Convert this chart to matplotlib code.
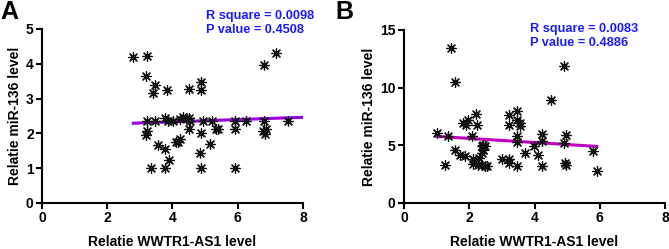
import matplotlib
matplotlib.use('Agg')
import matplotlib.pyplot as plt

plt.rcParams['font.family'] = ['Liberation Sans', 'DejaVu Sans']
plt.rcParams['font.weight'] = 'bold'

# panel A: WWTR1-AS1 vs miR-136
a_x = [2.80, 3.23, 3.20, 3.45, 3.41, 3.82, 4.51, 4.89, 4.89, 6.80, 7.18,
       3.23, 3.46, 3.78, 3.87, 4.02, 4.22, 4.33, 4.43, 4.50, 4.53, 4.94,
       5.22, 5.92, 6.24, 6.80, 7.55,
       3.22, 3.20, 4.51, 5.41, 5.35, 5.92, 6.78, 6.88, 6.83, 4.89, 4.22,
       4.17, 4.10, 3.56, 3.78, 5.14, 4.84, 3.89, 3.33, 3.76, 4.89, 5.92]
a_y = [4.19, 4.21, 3.65, 3.40, 3.15, 3.25, 3.27, 3.46, 3.25, 3.97, 4.31,
       2.34, 2.34, 2.43, 2.36, 2.34, 2.41, 2.46, 2.43, 2.43, 2.34, 2.34,
       2.34, 2.34, 2.34, 2.34, 2.34,
       2.08, 1.96, 2.12, 2.12, 2.12, 2.13, 2.08, 2.12, 1.98, 2.00, 1.85,
       1.76, 1.76, 1.65, 1.56, 1.69, 1.44, 1.22, 0.99, 0.99, 0.99, 0.99]
a_fit_x = [2.8, 8.0]
a_fit_y = [2.29, 2.46]

# panel B
b_x = [1.44, 1.56, 4.89, 4.50, 1.00, 1.34, 1.24, 1.56, 1.72, 1.87, 1.82,
       1.95, 1.89, 2.20, 2.24, 2.07, 2.10, 2.11, 2.28, 2.31, 2.38, 2.38,
       2.43, 2.48, 2.43, 2.38, 2.48, 2.53, 2.99, 3.22, 3.22, 3.22, 3.22,
       3.46, 3.46, 3.56, 3.56, 3.47, 3.45, 3.45, 3.72, 3.99, 4.12, 4.24,
       4.24, 4.24, 4.89, 4.96, 4.93, 4.98, 5.80, 5.91]
b_y = [13.41, 10.47, 11.88, 8.94, 6.06, 5.83, 3.26, 4.56, 4.18, 4.10, 6.92,
       7.21, 6.78, 7.73, 6.75, 5.77, 3.81, 3.35, 3.32, 3.89, 4.33, 4.90,
       4.99, 4.90, 4.61, 3.32, 3.17, 3.17, 3.81, 3.81, 3.46, 7.64, 6.78,
       7.93, 7.21, 6.69, 6.92, 5.83, 5.25, 3.17, 4.33, 4.96, 4.18, 5.97,
       5.34, 3.17, 5.19, 5.91, 3.46, 3.26, 4.47, 2.74]
b_fit_x = [1.0, 5.91]
b_fit_y = [5.77, 4.90]

fig = plt.figure(figsize=(6.69, 2.49), dpi=100)
axA = fig.add_axes([0.0628, 0.185, 0.390, 0.699])
axB = fig.add_axes([0.604, 0.185, 0.390, 0.695])

panels = [
    (axA, a_x, a_y, a_fit_x, a_fit_y, '#9B00E0', [0, 5], [0, 1, 2, 3, 4, 5],
     ['R square = 0.0098', 'P value = 0.4508'], 0.628, 0.96),
    (axB, b_x, b_y, b_fit_x, b_fit_y, '#C000C0', [0, 15], [0, 5, 10, 15],
     ['R square = 0.0083', 'P value = 0.4886'], 0.483, 0.907),
]

for ax, x, y, fx, fy, lc, ylim, yticks, txt, tx, ty in panels:
    ax.scatter(x, y, marker=(8, 2, 0), s=50, color='#111111', linewidths=0.9, zorder=3)
    ax.plot(fx, fy, color=lc, lw=2.2, zorder=2)
    ax.set_xlim(0, 8)
    ax.set_ylim(ylim)
    ax.set_xticks([0, 2, 4, 6, 8])
    ax.set_yticks(yticks)
    ax.spines['top'].set_visible(False)
    ax.spines['right'].set_visible(False)
    for s in ['left', 'bottom']:
        ax.spines[s].set_linewidth(1.5)
    ax.tick_params(width=1.5, length=4, labelsize=10, pad=2)
    for t in ax.get_xticklabels() + ax.get_yticklabels():
        t.set_fontweight('bold')
    ax.set_xlabel('Relatie WWTR1-AS1 level', fontsize=10, fontweight='bold', labelpad=7)
    ax.set_ylabel('Relatie miR-136 level', fontsize=10, fontweight='bold', labelpad=3)
    fig.text(tx * 0.390 + ax.get_position().x0, ty, txt[0] + '\n' + txt[1], color='#1A1AFF',
             fontsize=9.2, fontweight='bold', va='top', ha='left', linespacing=1.2)

fig.text(0.0, 1.0, 'A', fontsize=18, fontweight='bold', va='top', ha='left')
fig.text(0.502, 1.0, 'B', fontsize=18, fontweight='bold', va='top', ha='left')

fig.savefig('out.png', dpi=100)
